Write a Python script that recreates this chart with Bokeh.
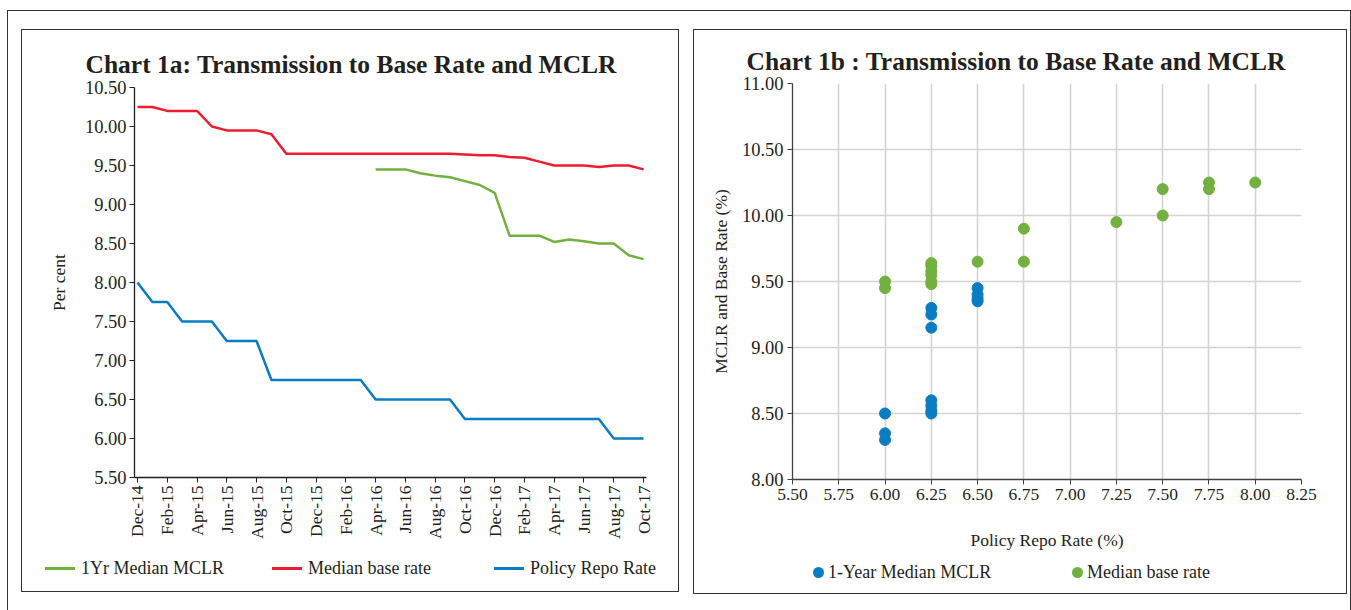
import math
from bokeh.plotting import figure
from bokeh.models import FixedTicker, NumeralTickFormatter, Div
from bokeh.layouts import row, column
from bokeh.embed import file_html
from bokeh.resources import INLINE

nan = float("nan")

# ---------------- Chart 1a data (monthly, Dec-14 .. Oct-17) ----------------
months = ["Dec-14", "Jan-15", "Feb-15", "Mar-15", "Apr-15", "May-15", "Jun-15", "Jul-15",
          "Aug-15", "Sep-15", "Oct-15", "Nov-15", "Dec-15", "Jan-16", "Feb-16", "Mar-16",
          "Apr-16", "May-16", "Jun-16", "Jul-16", "Aug-16", "Sep-16", "Oct-16", "Nov-16",
          "Dec-16", "Jan-17", "Feb-17", "Mar-17", "Apr-17", "May-17", "Jun-17", "Jul-17",
          "Aug-17", "Sep-17", "Oct-17"]
mclr_1yr = [nan] * 16 + [9.45, 9.45, 9.45, 9.40, 9.37, 9.35, 9.30, 9.25, 9.15, 8.60,
                         8.60, 8.60, 8.52, 8.55, 8.53, 8.50, 8.50, 8.35, 8.30]
median_base = [10.25, 10.25, 10.20, 10.20, 10.20, 10.00, 9.95, 9.95, 9.95, 9.90, 9.65,
               9.65, 9.65, 9.65, 9.65, 9.65, 9.65, 9.65, 9.65, 9.65, 9.65, 9.65, 9.64,
               9.63, 9.63, 9.61, 9.60, 9.55, 9.50, 9.50, 9.50, 9.48, 9.50, 9.50, 9.45]
repo_rate = [8.00, 7.75, 7.75, 7.50, 7.50, 7.50, 7.25, 7.25, 7.25, 6.75, 6.75, 6.75,
             6.75, 6.75, 6.75, 6.75, 6.50, 6.50, 6.50, 6.50, 6.50, 6.50, 6.25, 6.25,
             6.25, 6.25, 6.25, 6.25, 6.25, 6.25, 6.25, 6.25, 6.00, 6.00, 6.00]
y_ticks_1a = [5.50, 6.00, 6.50, 7.00, 7.50, 8.00, 8.50, 9.00, 9.50, 10.00, 10.50]
series_1a = ["1Yr Median MCLR", "Median base rate", "Policy Repo Rate"]

# ---------------- Chart 1b data (scatter) ----------------
sc_mclr_repo = [6.00, 6.00, 6.00, 6.25, 6.25, 6.25, 6.25, 6.25, 6.25, 6.25,
                6.50, 6.50, 6.50, 6.50]
sc_mclr_rate = [8.50, 8.35, 8.30, 9.30, 9.25, 9.15, 8.60, 8.56, 8.52, 8.50,
                9.45, 9.40, 9.37, 9.35]
sc_base_repo = [6.00, 6.00, 6.25, 6.25, 6.25, 6.25, 6.25, 6.25, 6.50, 6.75, 6.75,
                7.25, 7.50, 7.50, 7.75, 7.75, 8.00]
sc_base_rate = [9.50, 9.45, 9.64, 9.62, 9.58, 9.55, 9.50, 9.48, 9.65, 9.90, 9.65,
                9.95, 10.20, 10.00, 10.25, 10.20, 10.25]
x_ticks_1b = [5.50, 5.75, 6.00, 6.25, 6.50, 6.75, 7.00, 7.25, 7.50, 7.75, 8.00, 8.25]
y_ticks_1b = [8.00, 8.50, 9.00, 9.50, 10.00, 10.50, 11.00]
series_1b = ["1-Year Median MCLR", "Median base rate"]

GREEN = "#72B13F"
RED = "#EE1C2E"
BLUE = "#0A7DC2"
FONT = "Liberation Serif"
TXT = "#231F20"
BOX = {"border": "1px solid #333333"}


def legend_div(width, height, entries, kind):
    # entries: (label, colour, left_px, centre_y_px)
    parts = []
    for label, colour, left, cy in entries:
        if kind == "line":
            parts.append(f'<span style="position:absolute;left:{left}px;top:{cy - 1.5}px;'
                         f'width:30px;height:3px;background:{colour};"></span>')
            tx = left + 36
        else:
            parts.append(f'<span style="position:absolute;left:{left - 5.5}px;top:{cy - 5.5}px;'
                         f'width:11px;height:11px;border-radius:50%;background:{colour};"></span>')
            tx = left + 10
        parts.append(f'<span style="position:absolute;left:{tx}px;top:{cy - 11}px;'
                     f'line-height:22px;white-space:nowrap;">{label}</span>')
    html = (f'<div style="position:relative;width:{width}px;height:{height}px;'
            f'font-family:\'{FONT}\';font-size:18px;color:{TXT};">' + "".join(parts) + "</div>")
    return Div(text=html, width=width, height=height, margin=0)


def style_axis(ax, colour, label_size):
    ax.axis_line_color = colour
    ax.axis_line_width = 1.3
    ax.major_tick_line_color = colour
    ax.minor_tick_line_color = None
    ax.major_tick_in = 0
    ax.major_tick_out = 5
    ax.major_label_text_font = FONT
    ax.major_label_text_font_size = label_size
    ax.major_label_text_color = TXT
    ax.axis_label_text_font = FONT
    ax.axis_label_text_font_size = "17.5px"
    ax.axis_label_text_font_style = "normal"
    ax.axis_label_text_color = TXT


# ---------------- Chart 1a ----------------
p1 = figure(width=656, height=518, x_range=(-0.2, 34.2), y_range=(5.5, 10.5),
            output_backend="svg", toolbar_location=None,
            min_border_left=112, min_border_right=32, min_border_top=57, min_border_bottom=71,
            title="Chart 1a: Transmission to Base Rate and MCLR")
p1.outline_line_color = None
p1.xgrid.visible = False
p1.ygrid.visible = False
p1.title.text_font = FONT
p1.title.text_font_size = "25.5px"
p1.title.text_font_style = "bold"
p1.title.text_color = TXT
p1.title.align = "left"
p1.title.offset = -49
p1.title.standoff = 17

x_idx = list(range(len(months)))
p1.line(x_idx, mclr_1yr, line_color=GREEN, line_width=2.5, legend_label=series_1a[0])
p1.line(x_idx, median_base, line_color=RED, line_width=2.5, legend_label=series_1a[1])
p1.line(x_idx, repo_rate, line_color=BLUE, line_width=2.5, legend_label=series_1a[2])
p1.legend.visible = False

p1.xaxis.ticker = FixedTicker(ticks=x_idx[::2])
p1.xaxis.major_label_overrides = {i: months[i] for i in x_idx}
p1.xaxis.major_label_orientation = math.pi / 2
p1.yaxis.ticker = FixedTicker(ticks=y_ticks_1a)
p1.yaxis.formatter = NumeralTickFormatter(format="0.00")
p1.yaxis.axis_label = "Per cent"
style_axis(p1.xaxis[0], "#231F20", "17.5px")
style_axis(p1.yaxis[0], "#231F20", "18.5px")
p1.xaxis.major_label_standoff = 3
p1.yaxis.major_label_standoff = 3
p1.yaxis.axis_label_standoff = 13

leg1 = legend_div(656, 43, [(series_1a[0], GREEN, 23, 20),
                            (series_1a[1], RED, 250, 20),
                            (series_1a[2], BLUE, 472, 20)], "line")
box1 = column(p1, leg1, spacing=0, styles=BOX)

# ---------------- Chart 1b ----------------
p2 = figure(width=652, height=522, x_range=(5.5, 8.25), y_range=(8.0, 11.0),
            output_backend="svg", toolbar_location=None,
            min_border_left=98, min_border_right=45, min_border_top=53, min_border_bottom=62,
            title="Chart 1b : Transmission to Base Rate and MCLR")
p2.outline_line_color = None
p2.title.text_font = FONT
p2.title.text_font_size = "25.5px"
p2.title.text_font_style = "bold"
p2.title.text_color = TXT
p2.title.align = "left"
p2.title.offset = -46
p2.title.standoff = 16

for g in (p2.xgrid[0], p2.ygrid[0]):
    g.grid_line_color = "#D4D4D4"
    g.grid_line_width = 1.6

p2.scatter(sc_mclr_repo, sc_mclr_rate, size=11, fill_color=BLUE, line_color=BLUE,
           legend_label=series_1b[0])
p2.scatter(sc_base_repo, sc_base_rate, size=11, fill_color=GREEN, line_color=GREEN,
           legend_label=series_1b[1])
p2.legend.visible = False

p2.xaxis.ticker = FixedTicker(ticks=x_ticks_1b)
p2.yaxis.ticker = FixedTicker(ticks=y_ticks_1b)
p2.xaxis.formatter = NumeralTickFormatter(format="0.00")
p2.yaxis.formatter = NumeralTickFormatter(format="0.00")
p2.xaxis.axis_label = "Policy Repo Rate (%)"
p2.yaxis.axis_label = "MCLR and Base Rate (%)"
style_axis(p2.xaxis[0], "#404040", "17.5px")
style_axis(p2.yaxis[0], "#404040", "18.5px")
p2.xaxis.major_label_standoff = 4
p2.yaxis.major_label_standoff = 4
p2.xaxis.axis_label_standoff = 27
p2.yaxis.axis_label_standoff = 8

leg2 = legend_div(652, 41, [(series_1b[0], BLUE, 124, 20),
                            (series_1b[1], GREEN, 383, 20)], "dot")
box2 = column(p2, leg2, spacing=0, styles=BOX)

layout = row(box1, box2, spacing=14, margin=(10, 0, 0, 7),
             styles={"border": "1px solid #333333", "padding": "18px 3px 40px 13px"})

open("out.html", "w").write(file_html(layout, INLINE))
